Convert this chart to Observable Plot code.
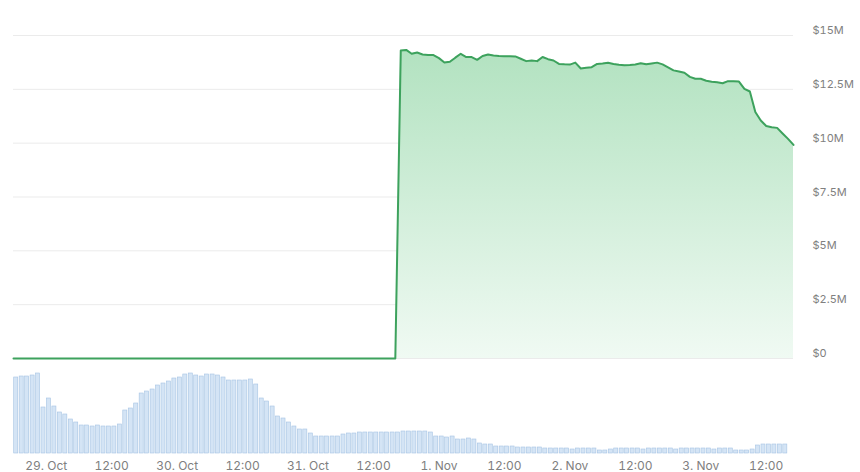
<!DOCTYPE html>
<html><head><meta charset="utf-8">
<script src="https://cdn.jsdelivr.net/npm/d3@7"></script>
<script src="https://cdn.jsdelivr.net/npm/@observablehq/plot@0.6"></script>
<style>
html,body{margin:0;padding:0;background:#fff;}
#chart{position:relative;width:860px;height:472px;overflow:hidden;}
#chart svg{display:block;}
</style></head><body><div id="chart"></div>
<script>
// ---- data ----
const domainStart = "2024-10-28T18:00:00Z";
const domainEnd = "2024-11-03T17:00:00Z";
// price is $0 until this point
const zeroTimes = ["2024-10-28T18:00:00Z", "2024-10-31T16:00:00Z"];
const zeroValues = [0, 0];
// hourly readings ($M) starting 31 Oct 17:00
const priceStart = "2024-10-31T17:00:00Z";
const priceM = [14.30, 14.33, 14.15, 14.21, 14.12, 14.10, 14.09, 13.95, 13.75, 13.78,
  13.97, 14.15, 14.00, 14.00, 13.87, 14.05, 14.12, 14.07, 14.05, 14.04,
  14.04, 14.03, 13.92, 13.81, 13.84, 13.81, 14.00, 13.90, 13.84, 13.68,
  13.66, 13.65, 13.74, 13.47, 13.50, 13.53, 13.68, 13.70, 13.73, 13.68,
  13.64, 13.62, 13.63, 13.65, 13.71, 13.66, 13.70, 13.74, 13.66, 13.52,
  13.38, 13.33, 13.27, 13.08, 12.99, 12.99, 12.90, 12.85, 12.83, 12.78,
  12.88, 12.87, 12.86, 12.52, 12.40, 11.45, 11.05, 10.80, 10.74, 10.71,
  10.45, 10.20, 9.92];
// hourly volume (relative units) starting 28 Oct 18:00
const volumeStart = "2024-10-28T18:00:00Z";
const volume = [76, 77, 77, 78, 80, 46, 55, 47, 41, 39,
  34, 31, 28, 28, 27, 28, 27, 27, 27, 29,
  43, 45, 50, 60, 62, 64, 68, 70, 72, 75,
  76, 79, 80, 78, 77, 79, 79, 78, 76, 73,
  73, 73, 73, 74, 69, 55, 52, 47, 37, 35,
  31, 27, 24, 24, 20, 17, 17, 17, 17, 17,
  19, 20, 20, 21, 21, 21, 21, 21, 21, 21,
  21, 22, 22, 22, 22, 22, 21, 17, 17, 16,
  17, 14, 14, 15, 14, 10, 9, 9, 7, 7,
  7, 7, 6, 6, 6, 6, 6, 5, 5, 5,
  5, 5, 4, 5, 5, 5, 5, 3, 3, 4,
  5, 5, 5, 5, 5, 4, 5, 5, 5, 5,
  5, 4, 5, 5, 5, 5, 5, 5, 4, 5,
  5, 5, 3, 3, 3, 4, 8, 9, 9, 9,
  9, 9];
const yTicks = [0, 2.5, 5, 7.5, 10, 12.5, 15];
const yTickLabels = ["$0", "$2.5M", "$5M", "$7.5M", "$10M", "$12.5M", "$15M"];
const xTicks = ["2024-10-29T00:00:00Z", "2024-10-29T12:00:00Z", "2024-10-30T00:00:00Z",
  "2024-10-30T12:00:00Z", "2024-10-31T00:00:00Z", "2024-10-31T12:00:00Z",
  "2024-11-01T00:00:00Z", "2024-11-01T12:00:00Z", "2024-11-02T00:00:00Z",
  "2024-11-02T12:00:00Z", "2024-11-03T00:00:00Z", "2024-11-03T12:00:00Z"];
const xTickLabels = ["29. Oct", "12:00", "30. Oct", "12:00", "31. Oct", "12:00",
  "1. Nov", "12:00", "2. Nov", "12:00", "3. Nov", "12:00"];

// ---- build tables ----
const HOUR = 3600e3;
const xDomain = [new Date(domainStart), new Date(domainEnd)];
const priceData = zeroTimes.map((t, i) => ({t: new Date(t), v: zeroValues[i]}))
  .concat(priceM.map((v, i) => ({t: new Date(+new Date(priceStart) + i * HOUR), v})));
const volData = volume.map((v, i) => {
  const t0 = +new Date(volumeStart) + i * HOUR;
  return {t1: new Date(t0), t2: new Date(t0 + HOUR), v};
});
const xTickDates = xTicks.map(d => new Date(d));

const font = "Inter, 'Open Sans', sans-serif";
const common = {width: 860, marginLeft: 13, marginRight: 67};

const pricePlot = Plot.plot({
  ...common,
  height: 365,
  marginTop: 35,
  marginBottom: 7,
  style: {fontFamily: font, background: "transparent", overflow: "visible"},
  x: {type: "utc", domain: xDomain, axis: null},
  y: {domain: [0, 15], label: null},
  marks: [
    Plot.gridY(yTicks, {stroke: "#ebebeb", strokeOpacity: 1}),
    Plot.areaY(priceData, {x: "t", y: "v", fill: "url(#priceGrad)"}),
    Plot.lineY(priceData, {x: "t", y: "v", stroke: "#3da25d", strokeWidth: 2}),
    Plot.axisY({anchor: "right", ticks: yTicks, tickSize: 0, tickPadding: 19, dy: -5,
      fontSize: 11, color: "#808080", label: null,
      tickFormat: d => yTickLabels[yTicks.indexOf(d)]})
  ]
});
const defs = d3.select(pricePlot).insert("defs", ":first-child");
const grad = defs.append("linearGradient").attr("id", "priceGrad")
  .attr("x1", 0).attr("x2", 0).attr("y1", 0).attr("y2", 1);
grad.append("stop").attr("offset", "0%").attr("stop-color", "#b2e2c0");
grad.append("stop").attr("offset", "100%").attr("stop-color", "#f0faf3");

const volPlot = Plot.plot({
  ...common,
  height: 107,
  marginTop: 7,
  marginBottom: 19,
  style: {fontFamily: font, background: "transparent", overflow: "visible"},
  x: {type: "utc", domain: xDomain, label: null},
  y: {domain: [0, 81], axis: null},
  marks: [
    Plot.rectY(volData, {x1: "t1", x2: "t2", y: "v", fill: "#d4e4f5", stroke: "#a6c4e3",
      strokeWidth: 0.6, insetLeft: 0.7, insetRight: 0.7}),
    Plot.axisX({ticks: xTickDates, tickSize: 0, tickPadding: 8, fontSize: 12, color: "#808080",
      label: null,
      tickFormat: d => xTickLabels[xTickDates.findIndex(t => +t === +d)]})
  ]
});

const chart = document.getElementById("chart");
chart.appendChild(pricePlot);
chart.appendChild(volPlot);
</script></body></html>
